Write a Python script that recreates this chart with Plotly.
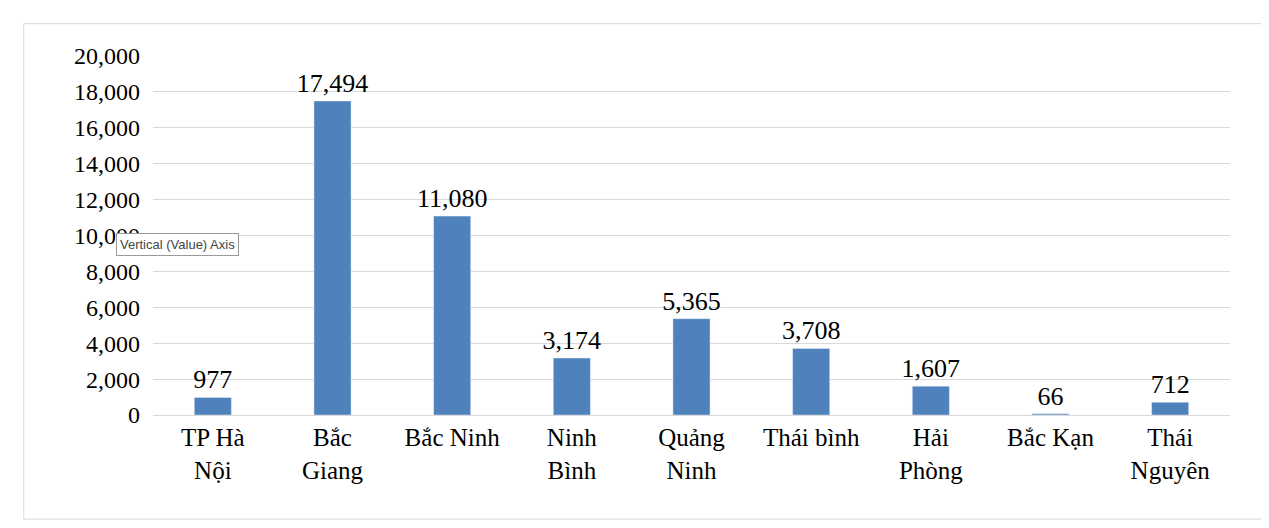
import plotly.graph_objects as go

categories = ["TP Hà<br>Nội", "Bắc<br>Giang", "Bắc Ninh", "Ninh<br>Bình", "Quảng<br>Ninh",
              "Thái bình", "Hải<br>Phòng", "Bắc Kạn", "Thái<br>Nguyên"]
values = [977, 17494, 11080, 3174, 5365, 3708, 1607, 66, 712]

fig = go.Figure(go.Bar(
    x=categories, y=values,
    marker_color="#4f81bd", width=0.31,
    text=[f"{v:,}" for v in values], textposition="outside",
    textfont=dict(size=26, color="black"), cliponaxis=False,
    constraintext="none",
))

fig.update_layout(
    width=1269, height=528,
    margin=dict(l=145, r=47, t=48, b=121),
    paper_bgcolor="white", plot_bgcolor="white",
    font=dict(family="Liberation Serif", size=24, color="black"),
    showlegend=False,
    xaxis=dict(showline=True, linecolor="#d9d9d9", tickfont=dict(size=25), ticks=""),
    yaxis=dict(range=[0, 20000], dtick=2000, tickformat=",", gridcolor="#d9d9d9",
               showline=False, zeroline=False, ticksuffix="  "),
    shapes=[dict(type="rect", xref="paper", yref="paper",
                 x0=-0.12, x1=1.03, y0=-0.29, y1=1.09,
                 line=dict(color="#d9d9d9", width=1))],
    annotations=[dict(text="Vertical (Value) Axis", xref="paper", yref="paper",
                      x=-0.034, y=0.474, xanchor="left", yanchor="middle", showarrow=False,
                      font=dict(family="Liberation Sans", size=13, color="#444"),
                      bgcolor="white", bordercolor="#999", borderwidth=1, borderpad=3)],
)

fig.write_html("out.html")
